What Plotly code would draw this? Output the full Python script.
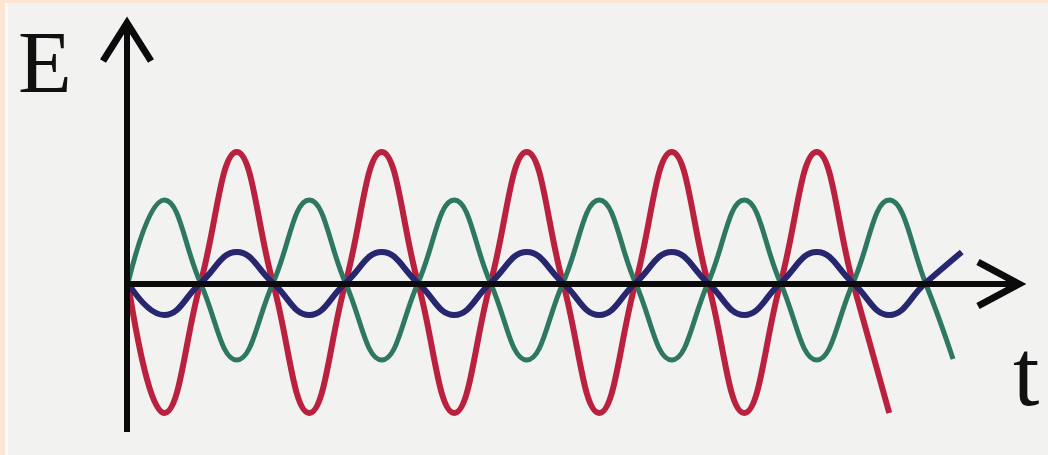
import plotly.graph_objects as go

# ---- data (t in periods, E in arbitrary units) ----
red_t = [0, 0.25, 0.5, 0.75, 1.0, 1.25, 1.5, 1.75, 2.0, 2.25, 2.5, 2.75, 3.0,
         3.25, 3.5, 3.75, 4.0, 4.25, 4.5, 4.75, 5.0, 5.25]
red_e = [0, -1.30, 0, 1.31, 0, -1.30, 0, 1.31, 0, -1.30, 0, 1.31, 0,
         -1.30, 0, 1.31, 0, -1.30, 0, 1.31, 0, -1.30]

green_t = [0, 0.25, 0.5, 0.75, 1.0, 1.25, 1.5, 1.75, 2.0, 2.25, 2.5, 2.75, 3.0,
           3.25, 3.5, 3.75, 4.0, 4.25, 4.5, 4.75, 5.0, 5.25, 5.5, 5.69]
green_e = [0, 0.83, 0, -0.77, 0, 0.83, 0, -0.77, 0, 0.83, 0, -0.77, 0,
           0.83, 0, -0.77, 0, 0.83, 0, -0.77, 0, 0.83, 0, -0.76]

blue_t = [0, 0.25, 0.5, 0.75, 1.0, 1.25, 1.5, 1.75, 2.0, 2.25, 2.5, 2.75, 3.0,
          3.25, 3.5, 3.75, 4.0, 4.25, 4.5, 4.75, 5.0, 5.25, 5.5, 5.75]
blue_e = [0, -0.32, 0, 0.31, 0, -0.32, 0, 0.31, 0, -0.32, 0, 0.31, 0,
          -0.32, 0, 0.31, 0, -0.32, 0, 0.31, 0, -0.32, 0, 0.31]

y_label = "E"
x_label = "t"

# ---- layout helpers (pixel -> data for decorations) ----
W, H = 1048, 455
X0, PER = 128.0, 145.0
Y0, UNIT = 283.0, 100.0


def X(px):
    return (px - X0) / PER


def Y(py):
    return (Y0 - py) / UNIT


fig = go.Figure()

AX = "#0b0b0b"
shapes = [
    # peach frame strips
    dict(type="rect", xref="paper", yref="paper", x0=0, x1=1, y0=1 - 3 / H, y1=1,
         fillcolor="#FCE5D3", line_width=0, layer="below"),
    dict(type="rect", xref="paper", yref="paper", x0=0, x1=5 / W, y0=0, y1=1,
         fillcolor="#FCE5D3", line_width=0, layer="below"),
    dict(type="rect", xref="paper", yref="paper", x0=5 / W, x1=8 / W, y0=0, y1=1 - 3 / H,
         fillcolor="#FAFAFA", line_width=0, layer="below"),
    # vertical axis
    dict(type="line", x0=X(127), x1=X(127), y0=Y(432), y1=Y(24),
         line=dict(color=AX, width=6)),
    dict(type="path", path=f"M {X(103)},{Y(61)} L {X(127)},{Y(23)} L {X(151)},{Y(61)}",
         line=dict(color=AX, width=7)),
    # horizontal axis
    dict(type="line", x0=X(127), x1=X(1018), y0=Y(284), y1=Y(284),
         line=dict(color=AX, width=6)),
    dict(type="path", path=f"M {X(978)},{Y(262)} L {X(1019)},{Y(284)} L {X(978)},{Y(306)}",
         line=dict(color=AX, width=7)),
]

fig.add_trace(go.Scatter(x=red_t, y=red_e, mode="lines",
                         line=dict(color="#BA213E", width=6, shape="spline", smoothing=1.3),
                         hoverinfo="skip"))
fig.add_trace(go.Scatter(x=green_t, y=green_e, mode="lines",
                         line=dict(color="#2E7862", width=5, shape="spline", smoothing=1.3),
                         hoverinfo="skip"))
fig.add_trace(go.Scatter(x=blue_t, y=blue_e, mode="lines",
                         line=dict(color="#27266E", width=6, shape="spline", smoothing=1.3),
                         hoverinfo="skip"))

annotations = [
    dict(x=X(45), y=Y(62), xref="x", yref="y", text=y_label, showarrow=False,
         font=dict(family="Liberation Serif", size=88, color="#111111"),
         xanchor="center", yanchor="middle"),
    dict(x=X(1026), y=Y(373), xref="x", yref="y", text=x_label, showarrow=False,
         font=dict(family="Liberation Serif", size=95, color="#111111"),
         xanchor="center", yanchor="middle"),
]

fig.update_layout(
    width=W, height=H,
    margin=dict(l=0, r=0, t=0, b=0),
    paper_bgcolor="#F2F2F1",
    plot_bgcolor="#F2F2F1",
    showlegend=False,
    shapes=shapes,
    annotations=annotations,
    xaxis=dict(range=[X(0), X(W)], visible=False, fixedrange=True),
    yaxis=dict(range=[Y(H), Y(0)], visible=False, fixedrange=True),
)

fig.write_html("out.html", config=dict(displayModeBar=False),
               post_script="document.body.style.margin='0';")
